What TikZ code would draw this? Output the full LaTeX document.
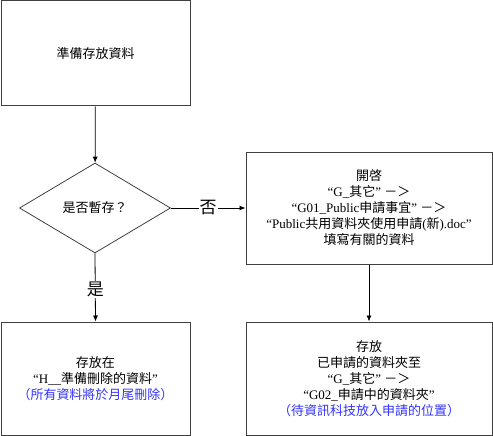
\documentclass[tikz,border=0pt]{standalone}
\usepackage{fontspec}
\setmainfont{Liberation Serif}
\newfontfamily\cjk{Noto Sans CJK TC}
\usetikzlibrary{shapes.geometric,arrows.meta}
\definecolor{bordergray}{RGB}{64,64,64}
\definecolor{noteblue}{RGB}{51,51,255}
\begin{document}
\begin{tikzpicture}[x=1pt,y=-1pt,
  box/.style={draw=bordergray,line width=1pt,align=center,inner sep=0pt,
    font=\fontsize{13}{16}\selectfont},
  decision/.style={diamond,draw=bordergray,line width=0.8pt,align=center,inner sep=0pt,
    font=\fontsize{13}{16}\selectfont},
  arr/.style={draw=black,line width=0.8pt,-{Latex[length=6pt,width=5pt]}},
  lbl/.style={fill=white,inner sep=1pt,font=\fontsize{17}{20}\selectfont\cjk}]
\useasboundingbox (0,0) rectangle (493,436);
\node[box,minimum width=189pt,minimum height=105pt] (start) at (95.5,53.5) {\cjk 準備存放資料};
\node[decision,minimum width=151pt,minimum height=90pt] (dec) at (95,208) {\cjk 是否暫存？};
\node[box,minimum width=246pt,minimum height=112pt] (open) at (369,208)
  {{\cjk 開啓}\\
   “G\_{\cjk 其它}” {\cjk －＞}\\
   “G01\_Public{\cjk 申請事宜}” {\cjk －＞}\\
   “Public{\cjk 共用資料夾使用申請}({\cjk 新}).doc”\\
   {\cjk 填寫有關的資料}};
\node[box,minimum width=189pt,minimum height=113pt] (del) at (95.5,378.5)
  {{\cjk 存放在}\\
   “H\_\_{\cjk 準備刪除的資料}”\\
   \textcolor{noteblue}{\cjk （所有資料將於月尾刪除）}};
\node[box,minimum width=246pt,minimum height=113pt] (store) at (369,378.5)
  {{\cjk 存放}\\
   {\cjk 已申請的資料夾至}\\
   “G\_{\cjk 其它}” {\cjk －＞}\\
   “G02\_{\cjk 申請中的資料夾}”\\
   \textcolor{noteblue}{\cjk （待資訊科技放入申請的位置）}};
\draw[arr] (start) -- (dec);
\draw[arr] (dec.east) -- node[lbl]{否} (open.west);
\draw[arr] (dec.south) -- node[lbl,pos=0.53]{是} (del.north);
\draw[arr] (open) -- (store);
\end{tikzpicture}
\end{document}
